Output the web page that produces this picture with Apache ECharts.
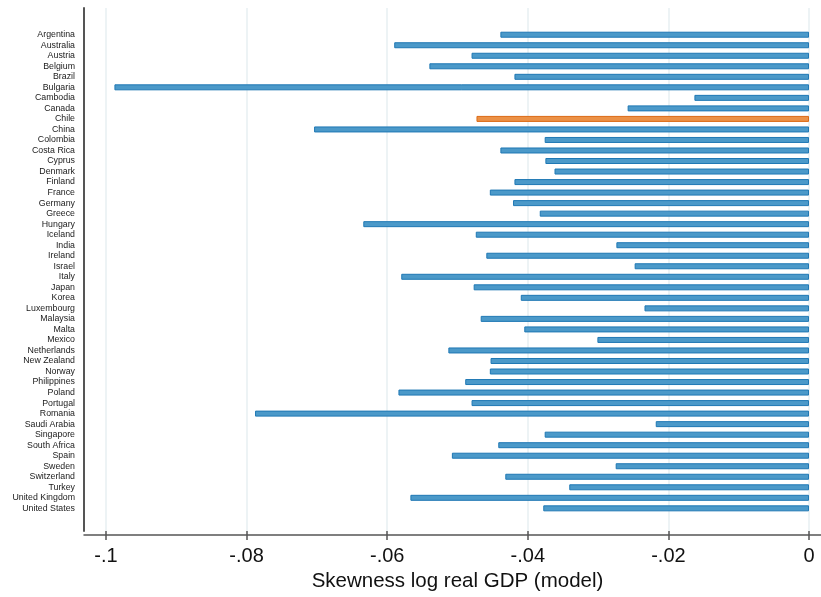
<!DOCTYPE html>
<html>
<head>
<meta charset="utf-8">
<script src="https://cdn.jsdelivr.net/npm/echarts@6/dist/echarts.min.js"></script>
<style>html,body{margin:0;padding:0;background:#fff}#c{width:821px;height:597px}</style>
</head>
<body>
<div id="c"></div>
<script>
const countries = ["Argentina","Australia","Austria","Belgium","Brazil","Bulgaria","Cambodia","Canada","Chile","China","Colombia","Costa Rica","Cyprus","Denmark","Finland","France","Germany","Greece","Hungary","Iceland","India","Ireland","Israel","Italy","Japan","Korea","Luxembourg","Malaysia","Malta","Mexico","Netherlands","New Zealand","Norway","Philippines","Poland","Portugal","Romania","Saudi Arabia","Singapore","South Africa","Spain","Sweden","Switzerland","Turkey","United Kingdom","United States"];
const skewness = [-0.0439,-0.0590,-0.0480,-0.0540,-0.0419,-0.0988,-0.0163,-0.0258,-0.0473,-0.0704,-0.0376,-0.0439,-0.0375,-0.0362,-0.0419,-0.0454,-0.0421,-0.0383,-0.0634,-0.0474,-0.0274,-0.0459,-0.0248,-0.0580,-0.0477,-0.0410,-0.0234,-0.0467,-0.0405,-0.0301,-0.0513,-0.0453,-0.0454,-0.0489,-0.0584,-0.0480,-0.0788,-0.0218,-0.0376,-0.0442,-0.0508,-0.0275,-0.0432,-0.0341,-0.0567,-0.0378];
const highlighted = "Chile";
const xTicksMin = -0.1, xTicksMax = 0, xTickStep = 0.02;

const W = 821, H = 597;
const tickLeft = 106, tickRight = 809;        // pixel positions of -0.1 and 0
const axisLeft = 84, axisRight = 821;          // extent of the axis frame
const perPx = (xTicksMax - xTicksMin) / (tickRight - tickLeft);
const frameMin = xTicksMin - (tickLeft - axisLeft) * perPx;
const frameMax = xTicksMax + (axisRight - tickRight) * perPx;

const barData = countries.map((c, i) => {
  const hi = c === highlighted;
  return {
    value: skewness[i],
    itemStyle: hi ? {color: '#ec9146', borderColor: '#dc6a14'} : {color: '#4b99c9', borderColor: '#1f78b4'}
  };
});

const chart = echarts.init(document.getElementById('c'), null, {renderer: 'canvas'});
chart.setOption({
  animation: false,
  backgroundColor: '#fff',
  grid: [
    {left: axisLeft, right: W - axisRight, top: 29.45, bottom: H - 513.6, containLabel: false},
    {left: tickLeft, right: W - tickRight, top: 8, bottom: H - 534.5, containLabel: false}
  ],
  xAxis: [
    {
      gridIndex: 0, type: 'value', min: frameMin, max: frameMax,
      position: 'bottom', offset: 534.5 - 513.6,
      axisLine: {show: true, onZero: false, lineStyle: {color: '#555', width: 1.5}},
      axisTick: {show: false}, axisLabel: {show: false}, splitLine: {show: false}
    },
    {
      gridIndex: 1, type: 'value', min: xTicksMin, max: xTicksMax, interval: xTickStep,
      position: 'bottom',
      axisLine: {show: false, onZero: false},
      axisTick: {show: true, length: 9, lineStyle: {color: '#555', width: 1.5}},
      axisLabel: {
        show: true, margin: 15, color: '#111', fontSize: 20,
        fontFamily: 'Liberation Sans, Arial, sans-serif',
        formatter: v => {
          if (Math.abs(v) < 1e-12) return '0';
          let s = String(Math.round(v * 1000) / 1000);
          return s.replace('-0.', '-.').replace(/^0\./, '.');
        }
      },
      splitLine: {show: true, lineStyle: {color: '#e7eff2', width: 1.5}},
      name: 'Skewness log real GDP (model)', nameLocation: 'middle', nameGap: 35,
      nameTextStyle: {fontSize: 20.5, color: '#111', fontFamily: 'Liberation Sans, Arial, sans-serif'}
    }
  ],
  yAxis: [
    {
      gridIndex: 0, type: 'category', data: countries, inverse: true, position: 'left',
      axisLine: {show: false, onZero: false}, axisTick: {show: false}, splitLine: {show: false},
      axisLabel: {show: true, interval: 0, margin: 9, fontSize: 8.8, color: '#1a1a1a', fontFamily: 'Liberation Sans, Arial, sans-serif'}
    },
    {
      gridIndex: 1, type: 'value', min: 0, max: 1, position: 'left', offset: tickLeft - axisLeft,
      axisLine: {show: true, onZero: false, lineStyle: {color: '#555', width: 2}},
      axisTick: {show: false}, axisLabel: {show: false}, splitLine: {show: false}
    }
  ],
  series: [{
    type: 'bar', xAxisIndex: 0, yAxisIndex: 0,
    data: barData, barWidth: 6,
    itemStyle: {borderWidth: 1}
  }]
});
</script>
</body>
</html>
